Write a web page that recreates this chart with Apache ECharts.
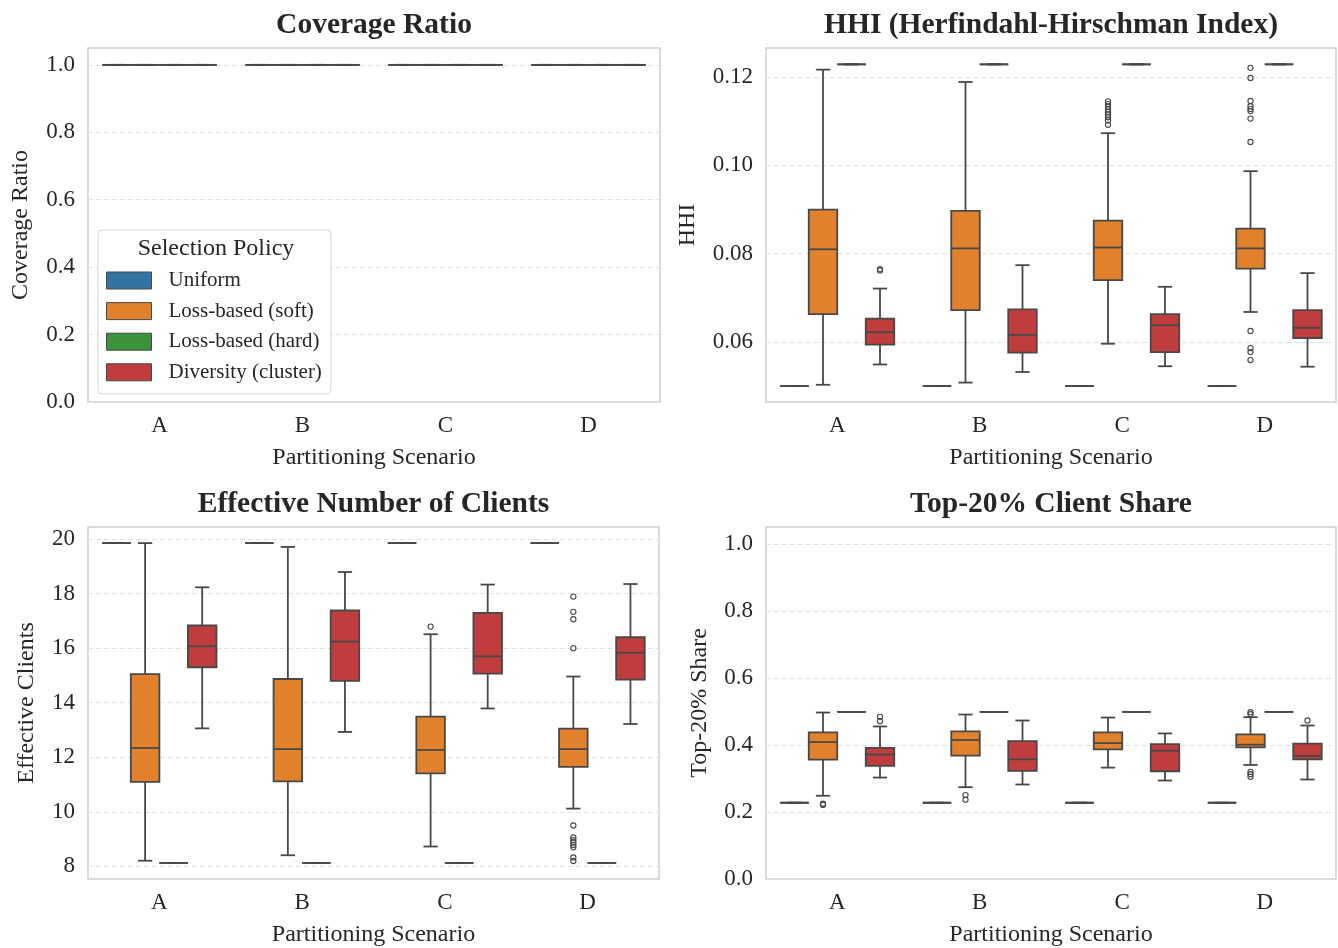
<!DOCTYPE html>
<html><head><meta charset="utf-8">
<script src="https://cdn.jsdelivr.net/npm/echarts@6/dist/echarts.min.js"></script>
<style>html,body{margin:0;padding:0;background:#fff}#c{width:1338px;height:948px}</style>
</head><body><div id="c"></div>
<script>
// ---------------- DATA ----------------
const scenarios = ['A', 'B', 'C', 'D'];
const policies = ['Uniform', 'Loss-based (soft)', 'Loss-based (hard)', 'Diversity (cluster)'];
const policyColors = ['#3274A1', '#E1812C', '#3A923A', '#C03D3E'];

// five-number summaries [min, q1, median, q3, max] for scenarios A..D
const coverageUniform   = [[1,1,1,1,1],[1,1,1,1,1],[1,1,1,1,1],[1,1,1,1,1]];
const coverageSoft      = [[1,1,1,1,1],[1,1,1,1,1],[1,1,1,1,1],[1,1,1,1,1]];
const coverageHard      = [[1,1,1,1,1],[1,1,1,1,1],[1,1,1,1,1],[1,1,1,1,1]];
const coverageDiversity = [[1,1,1,1,1],[1,1,1,1,1],[1,1,1,1,1],[1,1,1,1,1]];

const hhiUniform   = [[0.05,0.05,0.05,0.05,0.05],[0.05,0.05,0.05,0.05,0.05],[0.05,0.05,0.05,0.05,0.05],[0.05,0.05,0.05,0.05,0.05]];
const hhiSoft      = [[0.0503,0.0663,0.0810,0.0900,0.1217],[0.0508,0.0672,0.0812,0.0897,0.1189],[0.0596,0.0740,0.0814,0.0875,0.1073],[0.0668,0.0766,0.0812,0.0857,0.0987]];
const hhiHard      = [[0.1229,0.1229,0.1229,0.1229,0.1229],[0.1229,0.1229,0.1229,0.1229,0.1229],[0.1229,0.1229,0.1229,0.1229,0.1229],[0.1229,0.1229,0.1229,0.1229,0.1229]];
const hhiDiversity = [[0.0549,0.0594,0.0622,0.0653,0.0721],[0.0532,0.0576,0.0616,0.0674,0.0774],[0.0545,0.0577,0.0638,0.0663,0.0725],[0.0544,0.0609,0.0632,0.0672,0.0756]];
const hhiSoftOutliers      = [[], [], [0.1145,0.1139,0.1133,0.1127,0.1121,0.1115,0.1109,0.1102,0.1092], [0.1221,0.1198,0.1146,0.1134,0.1128,0.1123,0.1106,0.1053,0.0625,0.0586,0.0577,0.0559]];
const hhiDiversityOutliers = [[0.0762,0.0765], [], [], []];

const effUniform   = [[19.85,19.85,19.85,19.85,19.85],[19.85,19.85,19.85,19.85,19.85],[19.85,19.85,19.85,19.85,19.85],[19.85,19.85,19.85,19.85,19.85]];
const effSoft      = [[8.21,11.10,12.34,15.05,19.85],[8.41,11.12,12.30,14.87,19.71],[8.73,11.41,12.27,13.49,16.51],[10.12,11.65,12.30,13.05,14.96]];
const effHard      = [[8.13,8.13,8.13,8.13,8.13],[8.13,8.13,8.13,8.13,8.13],[8.13,8.13,8.13,8.13,8.13],[8.13,8.13,8.13,8.13,8.13]];
const effDiversity = [[13.06,15.30,16.07,16.83,18.23],[12.93,14.80,16.24,17.38,18.79],[13.79,15.07,15.70,17.29,18.33],[13.22,14.85,15.83,16.40,18.35]];
const effSoftOutliers      = [[], [], [16.79], [17.89,17.33,17.06,16.0,9.50,9.06,8.96,8.88,8.79,8.70,8.33,8.20]];
const effDiversityOutliers = [[], [], [], []];

const topUniform   = [[0.2275,0.2275,0.2275,0.2275,0.2275],[0.2275,0.2275,0.2275,0.2275,0.2275],[0.2275,0.2275,0.2275,0.2275,0.2275],[0.2275,0.2275,0.2275,0.2275,0.2275]];
const topSoft      = [[0.2483,0.3561,0.4085,0.4372,0.4966],[0.2739,0.3679,0.4145,0.4402,0.4906],[0.3323,0.3867,0.4055,0.4372,0.4817],[0.3402,0.3927,0.4006,0.4313,0.4827]];
const topHard      = [[0.4985,0.4985,0.4985,0.4985,0.4985],[0.4985,0.4985,0.4985,0.4985,0.4985],[0.4985,0.4985,0.4985,0.4985,0.4985],[0.4985,0.4985,0.4985,0.4985,0.4985]];
const topDiversity = [[0.3026,0.3375,0.3711,0.3909,0.4550],[0.2819,0.3224,0.3570,0.4115,0.4728],[0.2938,0.3214,0.3827,0.4025,0.4342],[0.2968,0.3571,0.3670,0.4036,0.4579]];
const topSoftOutliers      = [[0.2245,0.2210], [0.2502,0.2365], [], [0.4976,0.4916,0.3195,0.3125,0.3047]];
const topDiversityOutliers = [[0.4837,0.4709], [], [], [0.4728]];

const coverageTicks = [0, 0.2, 0.4, 0.6, 0.8, 1.0];
const hhiTicks = [0.06, 0.08, 0.10, 0.12];
const effTicks = [8, 10, 12, 14, 16, 18, 20];
const topTicks = [0, 0.2, 0.4, 0.6, 0.8, 1.0];

// ---------------- CHART ----------------
const FONT = "'Liberation Serif','Times New Roman',serif";
const TXT = '#262626';
const LINE = '#484848';
const LW = 1.8;

const panels = [
  { title: 'Coverage Ratio', yName: 'Coverage Ratio', yMin: 0, yMax: 1.05, ticks: coverageTicks, dec: 1, nameGap: 55,
    boxes: [coverageUniform, coverageSoft, coverageHard, coverageDiversity], outliers: [null, null, null, null],
    grid: { left: 88, top: 48, width: 572, height: 354 }, titleY: 22 },
  { title: 'HHI (Herfindahl-Hirschman Index)', yName: 'HHI', yMin: 0.0464, yMax: 0.1266, ticks: hhiTicks, dec: 2, nameGap: 66,
    boxes: [hhiUniform, hhiSoft, hhiHard, hhiDiversity], outliers: [null, hhiSoftOutliers, null, hhiDiversityOutliers],
    grid: { left: 766, top: 48, width: 570, height: 354 }, titleY: 22 },
  { title: 'Effective Number of Clients', yName: 'Effective Clients', yMin: 7.54, yMax: 20.44, ticks: effTicks, dec: 0, nameGap: 49,
    boxes: [effUniform, effSoft, effHard, effDiversity], outliers: [null, effSoftOutliers, null, effDiversityOutliers],
    grid: { left: 88, top: 527, width: 571, height: 353 }, titleY: 501 },
  { title: 'Top-20% Client Share', yName: 'Top-20% Share', yMin: 0, yMax: 1.05, ticks: topTicks, dec: 1, nameGap: 54,
    boxes: [topUniform, topSoft, topHard, topDiversity], outliers: [null, topSoftOutliers, null, topDiversityOutliers],
    grid: { left: 766, top: 527, width: 570, height: 353 }, titleY: 501 }
];

function boxRenderer(hue) {
  return function (params, api) {
    const ci = api.value(0);
    const band = api.size([1, 0])[0];
    const w = band * 0.2;
    const cx = api.coord([ci, api.value(3)])[0] + (hue - 1.5) * w;
    const y = [1, 2, 3, 4, 5].map(function (d) { return api.coord([ci, api.value(d)])[1]; });
    const x0 = cx - w / 2, cap = w / 4;
    const ls = { stroke: LINE, lineWidth: LW };
    return { type: 'group', children: [
      { type: 'line', shape: { x1: cx, y1: y[0], x2: cx, y2: y[1] }, style: ls },
      { type: 'line', shape: { x1: cx, y1: y[3], x2: cx, y2: y[4] }, style: ls },
      { type: 'line', shape: { x1: cx - cap, y1: y[0], x2: cx + cap, y2: y[0] }, style: ls },
      { type: 'line', shape: { x1: cx - cap, y1: y[4], x2: cx + cap, y2: y[4] }, style: ls },
      { type: 'rect', shape: { x: x0, y: y[3], width: w, height: y[1] - y[3] },
        style: { fill: policyColors[hue], stroke: LINE, lineWidth: LW } },
      { type: 'line', shape: { x1: x0, y1: y[2], x2: x0 + w, y2: y[2] }, style: ls }
    ]};
  };
}

function outlierRenderer(params, api) {
  const ci = api.value(0), hue = api.value(1);
  const band = api.size([1, 0])[0];
  const p = api.coord([ci, api.value(2)]);
  return { type: 'circle', shape: { cx: p[0] + (hue - 1.5) * band * 0.2, cy: p[1], r: 2.6 },
    style: { fill: 'none', stroke: LINE, lineWidth: 1.1 } };
}

const option = {
  backgroundColor: '#fff',
  animation: false,
  title: [], grid: [], xAxis: [], yAxis: [], series: [],
  legend: {
    left: 98, top: 230, orient: 'vertical', selectedMode: false,
    data: policies.map(function (p, i) {
      return { name: p, icon: 'rect', itemStyle: { color: policyColors[i], borderColor: LINE, borderWidth: 1 } };
    }),
    itemWidth: 45, itemHeight: 17, itemGap: 9.6,
    textStyle: { fontFamily: FONT, fontSize: 21, color: TXT, padding: [0, 0, 0, 12] },
    padding: [40, 9, 11, 8],
    backgroundColor: '#fff', borderColor: '#d6d6d6', borderWidth: 1, borderRadius: 4
  }
};

panels.forEach(function (pn, g) {
  option.title.push({
    text: pn.title, left: pn.grid.left + pn.grid.width / 2, top: pn.titleY - 12, textAlign: 'center', padding: 0,
    textStyle: { fontFamily: FONT, fontSize: 29.5, fontWeight: 'bold', color: TXT }
  });
  option.grid.push(Object.assign({ show: true, borderColor: '#cfcfcf', borderWidth: 1.5, backgroundColor: '#fff', containLabel: false }, pn.grid));
  option.xAxis.push({
    type: 'category', gridIndex: g, data: scenarios, boundaryGap: true,
    name: 'Partitioning Scenario', nameLocation: 'middle', nameGap: 44,
    nameTextStyle: { fontFamily: FONT, fontSize: 24, color: TXT },
    axisLine: { show: false }, axisTick: { show: false }, splitLine: { show: false },
    axisLabel: { fontFamily: FONT, fontSize: 23, color: TXT, margin: 12 }
  });
  option.yAxis.push({
    type: 'value', gridIndex: g, min: pn.yMin, max: pn.yMax,
    name: pn.yName, nameLocation: 'middle', nameGap: pn.nameGap,
    nameTextStyle: { fontFamily: FONT, fontSize: 24, color: TXT },
    axisLine: { show: false },
    axisTick: { show: false, customValues: pn.ticks },
    axisLabel: { fontFamily: FONT, fontSize: 23, color: TXT, margin: 13, customValues: pn.ticks,
      formatter: function (v) { return Number(v).toFixed(pn.dec); } },
    splitLine: { show: true, lineStyle: { color: '#e2e2e2', width: 1, type: [5, 3] } }
  });
  pn.boxes.forEach(function (stats, hue) {
    option.series.push({
      type: 'custom', name: policies[hue], xAxisIndex: g, yAxisIndex: g,
      itemStyle: { color: policyColors[hue] },
      renderItem: boxRenderer(hue),
      encode: { x: 0, y: [1, 2, 3, 4, 5] },
      data: stats.map(function (s, ci) { return [ci].concat(s); }),
      z: 3
    });
  });
  const pts = [];
  pn.outliers.forEach(function (arr, hue) {
    if (!arr) return;
    arr.forEach(function (vals, ci) { vals.forEach(function (v) { pts.push([ci, hue, v]); }); });
  });
  if (pts.length) {
    option.series.push({
      type: 'custom', name: 'outliers', xAxisIndex: g, yAxisIndex: g,
      renderItem: outlierRenderer, encode: { x: 0, y: 2 }, data: pts, z: 4
    });
  }
});

option.title.push({
  text: 'Selection Policy', left: 216, top: 237, textAlign: 'center', padding: 0, z: 20,
  textStyle: { fontFamily: FONT, fontSize: 24, fontWeight: 'normal', color: TXT }
});

const chart = echarts.init(document.getElementById('c'), null, { renderer: 'canvas' });
chart.setOption(option);
</script></body></html>
